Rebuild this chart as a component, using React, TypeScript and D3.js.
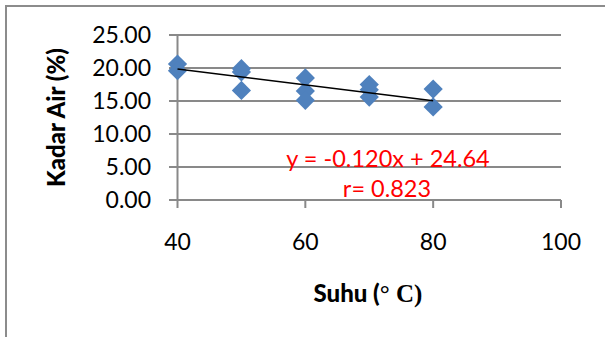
import React from "react";
import * as d3 from "d3";

const temps = [40, 40, 50, 50, 50, 60, 60, 60, 70, 70, 70, 80, 80];
const moisture = [20.6, 19.6, 19.9, 19.4, 16.6, 18.5, 16.5, 15.1, 17.5, 16.7, 15.6, 16.8, 14.1];
const yTicks = [0, 5, 10, 15, 20, 25];
const xTicks = [40, 60, 80, 100];
const slope = -0.12;
const intercept = 24.64;
const fitRange = [40, 80];
const eqLabel = "y = -0.120x + 24.64";
const rLabel = "r= 0.823";

const W = 605;
const H = 337;
const FONT = "Lato, 'Open Sans', sans-serif";
const GRID = "#898989";

export default function App() {
  const x = d3.scaleLinear().domain([40, 100]).range([177.5, 561]);
  const y = d3.scaleLinear().domain([0, 25]).range([200, 35]);
  const diamond = d3.symbol().type(d3.symbolSquare).size(185)();
  const fitLine = d3
    .line<number>()
    .x((d) => x(d))
    .y((d) => y(slope * d + intercept));

  return (
    <svg
      width={W}
      height={H}
      style={{ position: "absolute", left: 0, top: 0, background: "#fff" }}
    >
      <rect x={0} y={0} width={W} height={H} fill="#fff" />
      {/* outer border (top & left) */}
      <line x1={5} x2={W} y1={6} y2={6} stroke="#8c8c8c" strokeWidth={2} />
      <line x1={6} x2={6} y1={5} y2={H} stroke="#8c8c8c" strokeWidth={2} />

      {/* gridlines + y ticks */}
      {yTicks.map((t) => (
        <line
          key={"g" + t}
          x1={169}
          x2={x(100)}
          y1={y(t)}
          y2={y(t)}
          stroke={GRID}
          strokeWidth={2}
        />
      ))}
      {/* y axis */}
      <line x1={x(40)} x2={x(40)} y1={y(25)} y2={y(0)} stroke={GRID} strokeWidth={2} />
      {/* x ticks */}
      {xTicks.map((t) => (
        <line
          key={"xt" + t}
          x1={x(t)}
          x2={x(t)}
          y1={y(0)}
          y2={y(0) + 8}
          stroke={GRID}
          strokeWidth={2}
        />
      ))}

      {/* y tick labels */}
      {yTicks.map((t) => (
        <text
          key={"yl" + t}
          x={151}
          y={y(t)}
          dy="0.36em"
          textAnchor="end"
          fontFamily={FONT}
          fontSize={23}
          fill="#000"
        >
          {t.toFixed(2)}
        </text>
      ))}
      {/* x tick labels */}
      {xTicks.map((t) => (
        <text
          key={"xl" + t}
          x={x(t)}
          y={250}
          textAnchor="middle"
          fontFamily={FONT}
          fontSize={23}
          fill="#000"
        >
          {t}
        </text>
      ))}

      {/* points */}
      {temps.map((t, i) => (
        <path
          key={"p" + i}
          d={diamond}
          transform={`translate(${x(t)},${y(moisture[i])}) rotate(45)`}
          fill="#4F81BD"
        />
      ))}

      {/* regression line */}
      <path d={fitLine(fitRange) || ""} stroke="#000" strokeWidth={1.6} fill="none" />

      {/* equation */}
      <text
        x={388}
        y={167}
        textAnchor="middle"
        fontFamily={FONT}
        fontSize={23.5}
        fill="#FF0000"
      >
        {eqLabel}
      </text>
      <text
        x={387}
        y={197}
        textAnchor="middle"
        fontFamily={FONT}
        fontSize={23.5}
        fill="#FF0000"
      >
        {rLabel}
      </text>

      {/* axis titles */}
      <text
        transform="translate(65,117.5) rotate(-90)"
        textAnchor="middle"
        fontFamily={FONT}
        fontWeight="900"
        fontSize={24}
        fill="#000"
      >
        Kadar Air (%)
      </text>
      <text x={368} y={302} textAnchor="middle" fontSize={24} fill="#000" fontWeight="900">
        <tspan fontFamily={FONT}>Suhu (</tspan>
        <tspan fontFamily="'Liberation Serif', serif" fontWeight="bold" fontSize={25}>° C)</tspan>
      </text>
    </svg>
  );
}
